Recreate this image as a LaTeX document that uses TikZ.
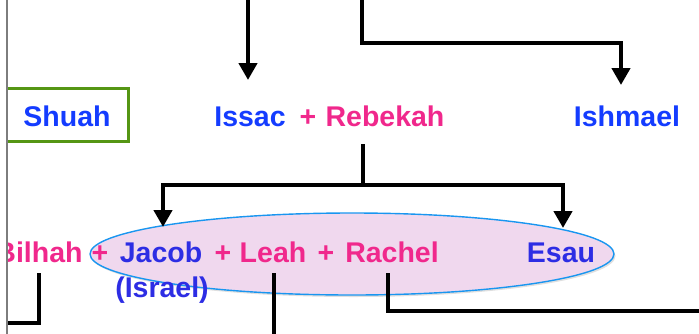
\documentclass[tikz,border=0pt]{standalone}
\usepackage{fontspec}
\setmainfont{Liberation Sans}
\usetikzlibrary{arrows.meta,shapes.geometric,shadows}

\definecolor{nameblue}{RGB}{20,60,255}
\definecolor{unionblue}{RGB}{45,45,228}
\definecolor{namepink}{RGB}{240,40,140}
\definecolor{ovalfill}{RGB}{240,216,238}
\definecolor{ovaledge}{RGB}{25,150,240}
\definecolor{boxgreen}{RGB}{85,150,20}
\definecolor{marginline}{RGB}{125,125,125}

\tikzset{
  person/.style={inner sep=0pt, anchor=base, font=\bfseries\fontsize{28.5}{32}\selectfont},
  male/.style={person, text=nameblue},
  wed/.style={person, text=unionblue},
  female/.style={person, text=namepink},
  plus/.style={person, text=namepink},
  link/.style={line width=4.5pt, black},
  arr/.style={link, -{Triangle[width=18pt,length=17pt]}},
  arrs/.style={link, {Triangle[width=18pt,length=17pt]}-{Triangle[width=18pt,length=17pt]}},
}

\begin{document}
\begin{tikzpicture}[x=1pt,y=-1pt]
\useasboundingbox (0,0) rectangle (699,333);

% marriage oval of Jacob's generation
\node[ellipse, minimum width=524pt, minimum height=82pt, inner sep=0pt,
      fill=ovalfill, draw=ovaledge, line width=1.4pt,
      drop shadow={shadow xshift=1.5pt, shadow yshift=-2pt, opacity=0.25}]
      (union) at (352,254) {};

% Shuah's frame
\draw[boxgreen, line width=3pt] (-10,88) rectangle (128,141);

% first row
\node[male]   (shuah)   at (67,126)  {Shuah};
\node[male]   (issac)   at (250,126) {Issac};
\node[plus]   (p0)      at (308,126) {+};
\node[female] (rebekah) at (385,126) {Rebekah};
\node[male]   (ishmael) at (627,126) {Ishmael};

% second row
\node[female] (bilhah)  at (39,262)  {Bilhah};
\node[plus]   (p1)      at (100,262) {+};
\node[wed]    (jacob)   at (161,262) {Jacob};
\node[wed]    (israel)  at (162,297) {(Israel)};
\node[plus]   (p2)      at (223,262) {+};
\node[female] (leah)    at (273,262) {Leah};
\node[plus]   (p3)      at (326,262) {+};
\node[female] (rachel)  at (392,262) {Rachel};
\node[wed]    (esau)    at (561,262) {Esau};

% connector end points
\coordinate (inA)  at (248,-5);
\coordinate (toIssac) at (248,80);
\coordinate (inB)  at (362,-5);
\coordinate (bendB) at (362,43);
\coordinate (toIshmael) at (621,85);
\coordinate (fromReb) at (363,144);
\coordinate (fork) at (363,185);
\coordinate (toJacob) at (163,227);
\coordinate (toEsau) at (563,228);
\coordinate (fromBil) at (39,273);
\coordinate (outBil) at (0,323);
\coordinate (fromLeah) at (274,273);
\coordinate (outLeah) at (274,340);
\coordinate (fromRach) at (388,273);
\coordinate (outRach) at (710,311);

% connectors
\draw[arr] (inA) -- (toIssac);
\draw[arr] (inB) -- (bendB) -| (toIshmael);
\draw[link] (fromReb) -- (fork);
\draw[arrs] (toJacob) |- (fork) -| (toEsau);
\draw[link] (fromBil) |- (outBil);
\draw[link] (fromLeah) -- (outLeah);
\draw[link] (fromRach) |- (outRach);

% page margin
\fill[white] (-20,-5) rectangle (6.5,340);
\draw[marginline, line width=1.2pt] (7,-5) -- (7,340);
\end{tikzpicture}
\end{document}
